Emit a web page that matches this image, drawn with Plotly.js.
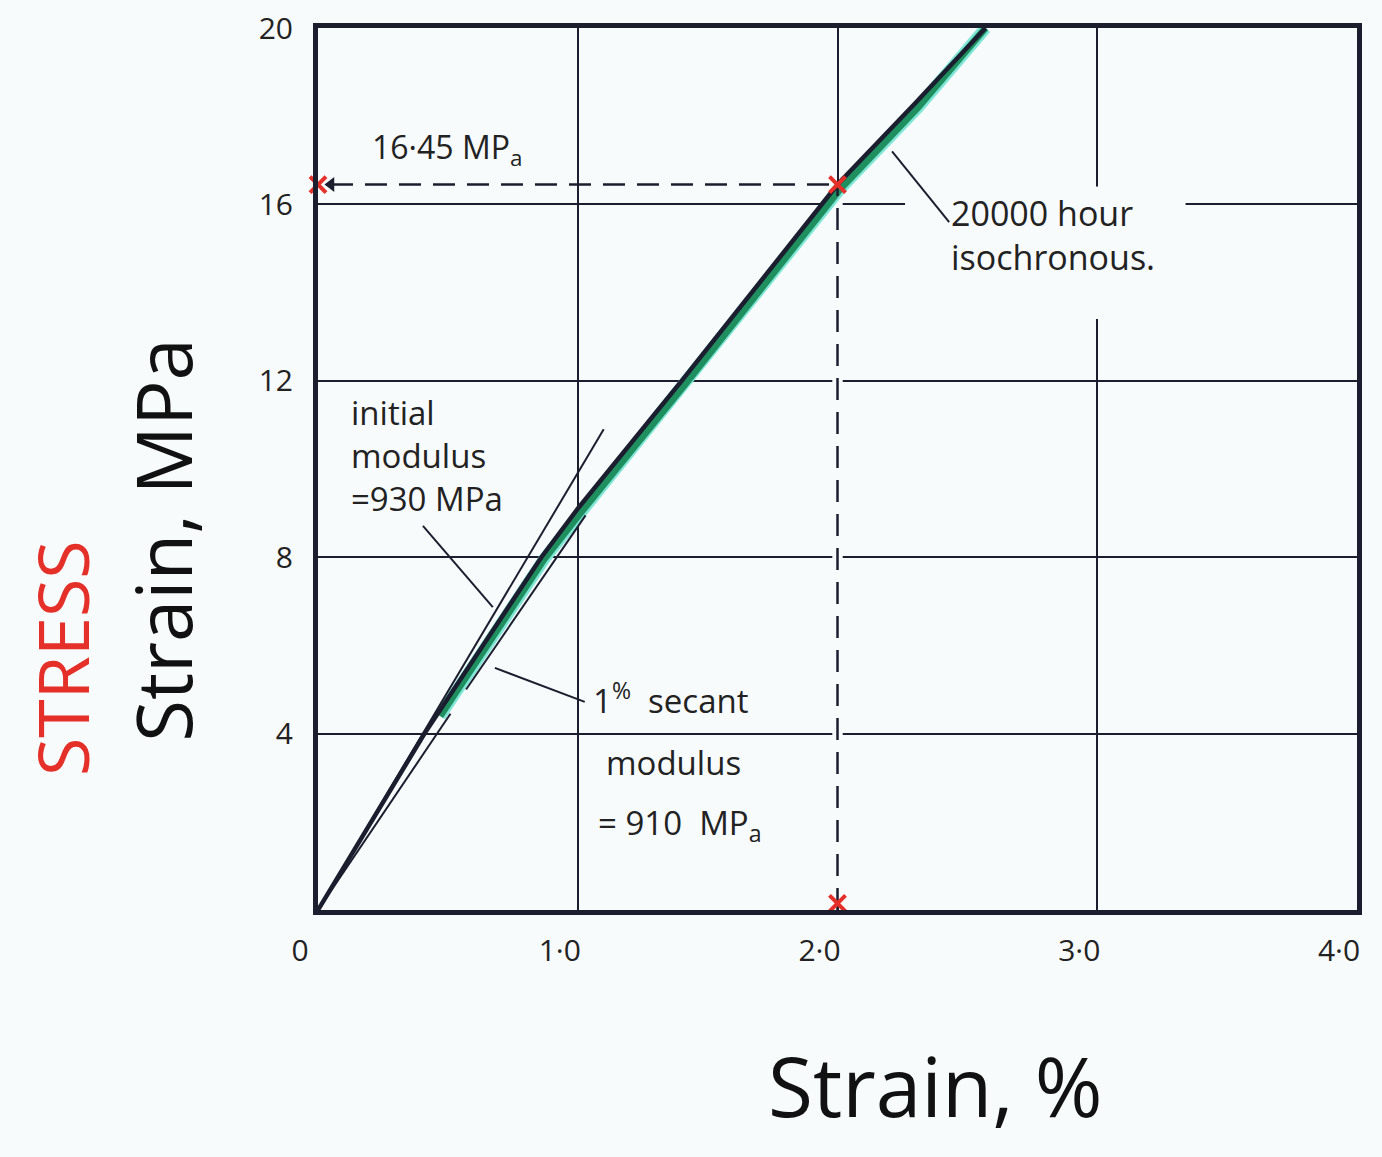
<!DOCTYPE html>
<html>
<head>
<meta charset="utf-8">
<script src="https://cdn.plot.ly/plotly-3.0.1.min.js"></script>
<style>
  html, body { margin: 0; padding: 0; background: #f8fbfc; }
  #chart { width: 1382px; height: 1157px; }
</style>
</head>
<body>
<div id="chart"></div>
<script>
// ---- data ----
const strainCurve  = [0, 0.41, 0.86, 1.0, 1.4, 2.0, 2.3, 2.57];
const stressCurve  = [0, 4.0, 8.0, 9.1, 12.0, 16.45, 18.3, 20.0];
const strainGreen  = [0.47, 0.87, 1.01, 1.41, 2.01, 2.31, 2.57];
const stressGreen  = [4.4, 7.95, 9.0, 11.9, 16.35, 18.2, 20.0];
const strainTangent = [0, 1.1];
const stressTangent = [0, 10.9];
const strainSecant = [0, 0.51, null, 0.57, 1.03];
const stressSecant = [0, 4.45, null, 5.0, 8.95];
const targetStrain = 2.0;
const targetStress = 16.45;
const xTickVals = [0, 1, 2, 3, 4];
const xTickText = ['0', '1·0', '2·0', '3·0', '4·0'];
const yTickVals = [4, 8, 12, 16, 20];
const yTickText = ['4', '8', '12', '16', '20'];
const leaderInitialX = [0.404, 0.673], leaderInitialY = [8.71, 6.87];
const leaderSecantX  = [0.681, 1.027], leaderSecantY  = [5.49, 4.72];
const leaderIsoX     = [2.21, 2.43],   leaderIsoY     = [17.2, 15.6];

const INK = '#1b1e2e';
const RED = '#e5302a';
const BG = '#f8fbfc';
const FONT = 'Open Sans, DejaVu Sans, sans-serif';

const traces = [
  { x: strainGreen, y: stressGreen, mode: 'lines', line: { color: '#7fe6d6', width: 12 }, hoverinfo: 'skip' },
  { x: strainGreen, y: stressGreen, mode: 'lines', line: { color: '#1f8f5f', width: 7 }, hoverinfo: 'skip' },
  { x: strainCurve, y: stressCurve, mode: 'lines', line: { color: INK, width: 4.5 }, hoverinfo: 'skip' },
  { x: strainTangent, y: stressTangent, mode: 'lines', line: { color: INK, width: 2 }, hoverinfo: 'skip' },
  { x: strainSecant, y: stressSecant, mode: 'lines', line: { color: INK, width: 2 }, connectgaps: false, hoverinfo: 'skip' },
  { x: leaderInitialX, y: leaderInitialY, mode: 'lines', line: { color: INK, width: 2 }, hoverinfo: 'skip' },
  { x: leaderSecantX, y: leaderSecantY, mode: 'lines', line: { color: INK, width: 2 }, hoverinfo: 'skip' },
  { x: leaderIsoX, y: leaderIsoY, mode: 'lines', line: { color: INK, width: 2 }, hoverinfo: 'skip' },
  // dashed read-off lines
  { x: [0.05, targetStrain], y: [targetStress, targetStress], mode: 'lines',
    line: { color: INK, width: 2.5, dash: '22px,12px' }, hoverinfo: 'skip' },
  { x: [0.05], y: [targetStress], mode: 'markers',
    marker: { symbol: 'triangle-left', size: 13, color: INK }, hoverinfo: 'skip' },
  { x: [targetStrain, targetStrain], y: [0, targetStress], mode: 'lines',
    line: { color: INK, width: 2.5, dash: '22px,12px' }, hoverinfo: 'skip' },
  // red pen marks
  { x: [0, targetStrain, targetStrain], y: [targetStress, targetStress, 0.15], mode: 'markers',
    marker: { symbol: 'x-thin-open', size: 16, line: { color: RED, width: 4 }, color: RED },
    cliponaxis: false, hoverinfo: 'skip' }
];

const layout = {
  width: 1382, height: 1157,
  margin: { l: 318, r: 25, t: 28, b: 247 },
  paper_bgcolor: BG,
  plot_bgcolor: BG,
  showlegend: false,
  font: { family: FONT, color: '#222', size: 30 },
  xaxis: {
    range: [0, 4], tickvals: xTickVals, ticktext: xTickText,
    showgrid: true, gridcolor: INK, gridwidth: 2, zeroline: false,
    showline: true, linecolor: INK, linewidth: 5, mirror: true,
    ticks: '', ticklabelshift: -18, ticklabelstandoff: 10,
    tickfont: { family: FONT, size: 30, color: '#222' }, fixedrange: true
  },
  yaxis: {
    range: [0, 20], tickvals: yTickVals, ticktext: yTickText,
    showgrid: true, gridcolor: INK, gridwidth: 2, zeroline: false,
    showline: true, linecolor: INK, linewidth: 5, mirror: true,
    ticks: '', ticklabelstandoff: 14,
    tickfont: { family: FONT, size: 30, color: '#222' }, fixedrange: true
  },
  shapes: [
    // gaps in the grid behind lettering
    { type: 'rect', layer: 'between', xref: 'x', yref: 'y', x0: 2.26, x1: 3.34, y0: 15.6, y1: 16.4,
      fillcolor: BG, line: { width: 0 } },
    { type: 'rect', layer: 'between', xref: 'x', yref: 'y', x0: 2.97, x1: 3.03, y0: 13.4, y1: 16.4,
      fillcolor: BG, line: { width: 0 } },
    { type: 'rect', layer: 'between', xref: 'x', yref: 'y', x0: 1.98, x1: 2.02, y0: 0.1, y1: 16.4,
      fillcolor: BG, line: { width: 0 } }
  ],
  annotations: [
    { x: 0.2, y: 17.25, xref: 'x', yref: 'y', xanchor: 'left', yanchor: 'middle', showarrow: false,
      text: '16·45 MP<sub>a</sub>', font: { size: 32, family: FONT, color: '#222' } },
    { x: 0.12, y: 10.3, xref: 'x', yref: 'y', xanchor: 'left', yanchor: 'middle', align: 'left', showarrow: false,
      text: 'initial<br>modulus<br>=930 MPa', font: { size: 33, family: FONT, color: '#222' } },
    { x: 1.05, y: 4.8, xref: 'x', yref: 'y', xanchor: 'left', yanchor: 'middle', showarrow: false,
      text: '1<sup>%</sup>  secant', font: { size: 33, family: FONT, color: '#222' } },
    { x: 1.1, y: 3.35, xref: 'x', yref: 'y', xanchor: 'left', yanchor: 'middle', showarrow: false,
      text: 'modulus', font: { size: 33, family: FONT, color: '#222' } },
    { x: 1.07, y: 1.95, xref: 'x', yref: 'y', xanchor: 'left', yanchor: 'middle', showarrow: false,
      text: '= 910  MP<sub>a</sub>', font: { size: 33, family: FONT, color: '#222' } },
    { x: 2.43, y: 15.3, xref: 'x', yref: 'y', xanchor: 'left', yanchor: 'middle', align: 'left', showarrow: false,
      text: '20000 hour<br>isochronous.', font: { size: 34, family: FONT, color: '#222' } },
    // handwritten axis titles
    { x: 0.594, y: -0.198, xref: 'paper', yref: 'paper', xanchor: 'center', yanchor: 'middle', showarrow: false,
      text: 'Strain, %', font: { size: 82, family: FONT, color: '#111' } },
    { x: -0.15, y: 0.42, xref: 'paper', yref: 'paper', xanchor: 'center', yanchor: 'middle', showarrow: false,
      textangle: -90, text: 'Strain, MPa', font: { size: 76, family: FONT, color: '#111' } },
    { x: -0.247, y: 0.286, xref: 'paper', yref: 'paper', xanchor: 'center', yanchor: 'middle', showarrow: false,
      textangle: -90, text: 'STRESS', font: { size: 70, family: FONT, color: RED } }
  ]
};

Plotly.newPlot('chart', traces, layout, { displayModeBar: false, staticPlot: true });
</script>
</body>
</html>
